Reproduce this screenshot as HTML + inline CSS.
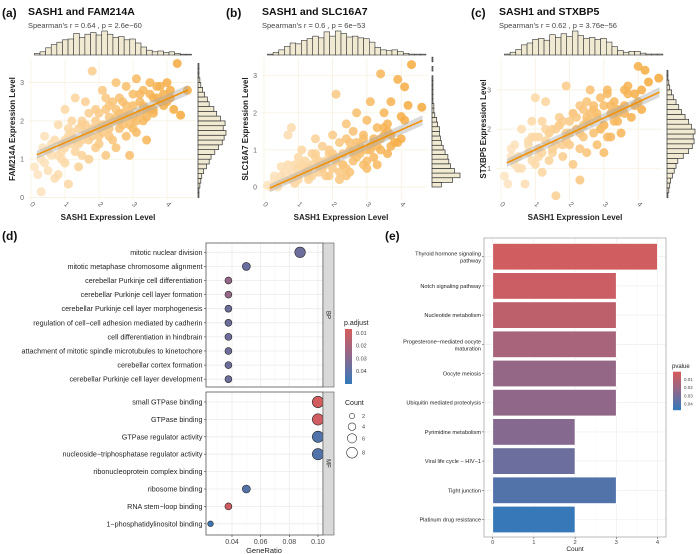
<!DOCTYPE html>
<html><head><meta charset="utf-8"><style>
body{margin:0;background:#fff}
svg{display:block;font-family:"Liberation Sans",Arial,sans-serif}
</style></head><body>
<svg id="fig" width="700" height="554" viewBox="0 0 700 554"></svg>
<script>
// ---------- data ----------
const ptsAx=[0.1,0.2,0.3,0.35,0.5,0.4,0.6,0.7,0.8,0.9,1.0,1.0,1.1,1.2,1.3,1.3,1.4,1.5,1.5,1.6,1.7,1.8,1.8,1.9,2.0,2.0,2.1,2.2,2.2,2.3,2.4,2.4,2.5,2.5,2.6,2.6,2.7,2.8,2.8,2.9,2.9,3.0,3.0,3.1,3.1,3.2,3.3,3.3,3.4,3.4,3.5,3.5,3.6,3.7,3.8,3.9,4.0,4.1,4.2,4.3,4.4,4.6,0.5,0.7,0.9,1.1,1.2,1.4,1.6,1.7,1.9,2.1,2.3,2.3,2.5,2.7,2.8,3.0,3.2,3.6,2.0,1.5,0.8,1.0,2.6,3.8,2.2,
 0.3,0.6,0.9,1.1,1.3,1.5,1.7,1.9,2.1,2.3,2.5,2.7,2.9,3.1,3.3,3.5,3.7,3.9,4.1,0.4,0.8,1.2,1.6,2.0,2.4,2.8,3.2,3.6,4.0,1.0,1.4,1.8,2.2,2.6,3.0,3.4];
const ptsAy=[0.8,0.6,0.15,1.3,0.7,1.6,1.1,0.5,1.9,1.4,0.9,2.3,0.35,1.7,1.2,2.6,0.8,1.5,2.0,2.5,1.0,1.8,3.3,1.3,2.2,1.6,2.8,1.1,1.9,2.4,1.5,2.0,3.0,1.3,2.6,1.8,2.2,1.6,2.9,1.9,1.1,2.4,2.1,3.1,1.7,2.5,2.0,2.8,2.3,1.5,2.7,3.0,2.2,2.6,2.9,2.4,3.0,2.6,2.3,3.5,2.15,2.8,1.2,1.5,1.0,1.6,2.0,1.4,1.7,2.2,2.0,1.7,1.6,2.1,2.3,1.9,2.4,1.8,2.2,2.6,1.4,1.1,0.6,1.3,2.0,2.5,2.6,
 1.0,1.4,1.2,1.8,1.5,1.9,1.5,2.3,1.9,1.8,2.1,2.5,2.2,2.0,2.4,2.3,2.9,2.7,2.8,0.9,1.1,1.4,1.9,1.8,2.5,2.1,2.7,2.3,2.5,1.5,1.8,1.6,2.3,2.2,2.7,2.1];
const ptsBx=[0.1,0.2,0.3,0.4,0.5,0.6,0.7,0.8,0.8,0.9,1.0,1.0,1.1,1.2,1.3,1.4,1.4,1.5,1.6,1.6,1.7,1.8,1.9,2.0,2.0,2.1,2.1,2.2,2.2,2.3,2.4,2.5,2.5,2.6,2.6,2.7,2.7,2.8,2.9,3.0,3.0,3.1,3.1,3.2,3.3,3.4,3.4,3.5,3.6,3.6,3.7,3.8,3.9,4.0,4.1,4.2,4.3,4.6,0.5,0.9,1.2,1.5,1.8,2.3,2.4,2.8,3.2,3.3,1.0,1.7,2.0,2.6,2.9,3.5,3.7,0.7,1.3,1.9,2.4,3.0,
 0.3,0.6,0.9,1.1,1.3,1.5,1.7,1.9,2.1,2.3,2.5,2.7,2.9,3.1,3.3,3.5,3.7,3.9,4.1,0.4,0.8,1.2,1.6,2.0,2.4,2.8,3.2,3.6,4.0,1.0,1.4,1.8,2.2,2.6,3.0,3.4];
const ptsBy=[0.05,0.0,0.3,0.1,0.55,0.2,1.4,0.4,1.6,0.1,0.8,0.3,1.0,0.5,0.2,0.9,0.6,1.3,0.4,0.7,1.1,0.3,0.9,1.4,0.5,2.5,0.8,0.2,1.2,0.6,1.7,0.4,1.0,1.5,0.7,1.2,2.0,0.9,1.4,0.5,1.8,1.1,2.3,0.8,1.6,3.05,1.3,2.0,0.9,1.7,2.3,1.2,2.9,1.9,2.7,2.2,3.3,2.15,0.3,0.6,0.7,0.9,0.7,0.9,1.3,1.1,1.3,0.6,0.5,0.5,0.9,0.9,0.6,1.4,1.1,0.6,0.5,0.3,0.3,1.0,
 0.2,0.4,0.1,0.6,0.3,0.8,0.5,1.0,0.7,0.6,1.2,0.8,1.3,1.0,1.1,1.6,1.4,1.2,1.8,0.0,0.2,0.4,0.6,0.8,0.5,1.0,1.2,1.5,1.3,0.2,0.3,0.6,0.4,1.0,0.7,1.0];
const ptsCx=[0.1,0.2,0.3,0.4,0.5,0.6,0.7,0.8,0.9,1.0,1.0,1.1,1.2,1.3,1.3,1.4,1.5,1.6,1.6,1.7,1.8,1.9,1.9,2.0,2.1,2.1,2.2,2.3,2.3,2.4,2.5,2.5,2.6,2.7,2.7,2.8,2.9,3.0,3.0,3.1,3.2,3.2,3.3,3.4,3.5,3.6,3.7,3.8,3.9,4.0,4.1,4.2,4.3,4.6,0.5,0.8,1.1,1.4,1.7,2.0,2.2,2.4,2.6,2.8,3.0,3.3,3.6,1.2,1.8,2.5,2.9,3.4,0.9,1.5,2.3,3.1,
 0.3,0.6,0.9,1.1,1.3,1.5,1.7,1.9,2.1,2.3,2.5,2.7,2.9,3.1,3.3,3.5,3.7,3.9,4.1,0.4,0.8,1.2,1.6,2.0,2.4,2.8,3.2,3.6,4.0,1.0,1.4,1.8,2.2,2.6,3.0,3.4];
const ptsCy=[0.8,0.6,1.3,1.6,1.0,2.0,0.6,1.4,2.2,1.1,2.8,1.5,0.9,1.7,2.7,1.2,2.0,0.3,1.6,2.3,1.3,1.9,3.1,1.6,2.4,1.1,2.0,0.7,2.6,1.8,2.2,1.4,3.0,1.9,2.5,1.6,2.8,2.1,1.4,3.0,2.4,1.8,2.7,2.2,1.9,2.6,3.1,2.3,2.9,3.6,2.5,3.5,3.2,3.3,1.3,1.7,1.8,1.9,2.1,2.2,2.3,2.1,2.2,2.4,2.6,2.2,2.4,2.2,1.6,2.7,2.0,2.5,1.2,1.4,1.5,1.8,
 1.5,1.0,1.8,1.3,2.0,1.5,2.1,1.7,2.4,1.9,2.3,2.6,2.0,2.9,2.4,2.5,2.9,2.6,3.0,1.1,1.6,1.4,2.0,1.9,2.5,2.3,2.6,3.0,2.7,1.8,1.9,2.2,2.0,2.4,2.1,2.4];
const fitInt=[1.05,-0.1,1.07];
const fitSlope=[0.38,0.41,0.405];
const histTopA=[2,4,9,13,16,19,20,27,22,26,28,25,30,26,22,23,19,20,15,10,6,4,5,3,4,2,1,1];
const histTopB=[1,3,6,10,14,13,17,19,22,20,27,22,28,25,21,22,20,19,15,9,6,5,6,4,2,1,1,1];
const histTopC=[1,3,6,11,13,17,18,16,22,19,23,20,26,21,18,19,17,18,14,9,5,3,4,4,2,1,1,1];
const histRightA=[1,1,2,3,4,6,9,12,14,18,22,26,28,30,27,29,24,20,17,12,10,7,5,3,2,1,1,1];
const histRightB=[10,22,30,24,20,18,17,14,12,10,9,8,8,6,5,3,2,2,1,1,1,1,1,1,0,1,0,1];
const histRightC=[0,0,1,2,3,4,6,8,10,12,18,24,28,30,29,31,27,24,20,16,13,10,7,5,3,2,1,1];

const dTerms=["mitotic nuclear division","mitotic metaphase chromosome alignment","cerebellar Purkinje cell differentiation","cerebellar Purkinje cell layer formation","cerebellar Purkinje cell layer morphogenesis","regulation of cell−cell adhesion mediated by cadherin","cell differentiation in hindbrain","attachment of mitotic spindle microtubules to kinetochore","cerebellar cortex formation","cerebellar Purkinje cell layer development"];
const dRatio=[0.0875,0.05,0.0375,0.0375,0.0375,0.0375,0.0375,0.0375,0.0375,0.0375];
const dCount=[7,4,3,3,3,3,3,3,3,3];
const dPadj=[0.036,0.037,0.026,0.026,0.036,0.036,0.036,0.036,0.036,0.036];
const mfTerms=["small GTPase binding","GTPase binding","GTPase regulator activity","nucleoside−triphosphatase regulator activity","ribonucleoprotein complex binding","ribosome binding","RNA stem−loop binding","1−phosphatidylinositol binding"];
const mfRatio=[0.1,0.1,0.1,0.1,null,0.05,0.0375,0.025];
const mfCount=[8,8,8,8,null,4,3,2];
const mfPadj=[0.008,0.009,0.043,0.043,null,0.042,0.009,0.047];
const xTicksD=[0.04,0.06,0.08,0.10];
const padjTicks=[0.01,0.02,0.03,0.04];
const countTicks=[2,4,6,8];

const eTerms=[["Thyroid hormone signaling","pathway"],["Notch signaling pathway"],["Nucleotide metabolism"],["Progesterone−mediated oocyte","maturation"],["Oocyte meiosis"],["Ubiquitin mediated proteolysis"],["Pyrimidine metabolism"],["Viral life cycle − HIV−1"],["Tight junction"],["Platinum drug resistance"]];
const eCount=[4,3,3,3,3,3,2,2,3,2];
const ePval=[0.003,0.005,0.009,0.016,0.022,0.023,0.026,0.033,0.040,0.047];
const eTicks=[0,1,2,3,4];
const pvTicks=[0.01,0.02,0.03,0.04];

// ---------- helpers ----------
const NS="http://www.w3.org/2000/svg";
const svg=document.getElementById('fig');
function mk(tag,at,parent,txt){const e=document.createElementNS(NS,tag);for(const k in at)e.setAttribute(k,at[k]);if(txt!==undefined)e.textContent=txt;(parent||svg).appendChild(e);return e;}
function lerp(a,b,t){return a+(b-a)*t}
function pcol(v,lo,hi){let t=Math.max(0,Math.min(1,(v-lo)/(hi-lo)));const r=[214,92,92],m=[140,104,140],b=[52,120,185];let c;if(t<0.5){c=r.map((x,i)=>lerp(x,m[i],t*2))}else{c=m.map((x,i)=>lerp(x,b[i],(t-0.5)*2))}return `rgb(${c.map(Math.round).join(',')})`}
function ocol(t){t=Math.max(0,Math.min(1,t));const a=[253,230,196],b=[245,168,58];return `rgb(${a.map((x,i)=>Math.round(lerp(x,b[i],t))).join(',')})`}

// ---------- scatter panels ----------
const panels=[
 {lab:"(a)",labX:2,title:"SASH1 and FAM214A",tX:28,sub:"Spearman's r = 0.64 , p = 2.6e−60",L:29,R:195,x0:31,kx:34,y0:197.5,ky:38.3,yt:[0,1,2,3],ytitle:"FAM214A Expression Level",ytX:15,rhB:198,px:ptsAx,py:ptsAy,ht:histTopA,hr:histRightA,key:"a"},
 {lab:"(b)",labX:226,title:"SASH1 and SLC16A7",tX:262,sub:"Spearman's r = 0.6 , p = 6e−53",L:262,R:428,x0:264,kx:34.3,y0:187,ky:37.1,yt:[0,1,2,3],ytitle:"SLC16A7 Expression Level",ytX:248,rhB:432,px:ptsBx,py:ptsBy,ht:histTopB,hr:histRightB,key:"b"},
 {lab:"(c)",labX:471,title:"SASH1 and STXBP5",tX:499,sub:"Spearman's r = 0.62 , p = 3.76e−56",L:496,R:662,x0:501,kx:34.3,y0:207.5,ky:39.2,yt:[1,2,3],ytitle:"STXBP5 Expression Level",ytX:486,rhB:667,px:ptsCx,py:ptsCy,ht:histTopC,hr:histRightC,key:"c"}
];
panels.forEach((p,pi)=>{
 const g=mk('g',{});
 
 
 const sx=v=>p.x0+v*p.kx, sy=v=>p.y0-v*p.ky;
 mk('text',{x:p.labX,y:17,'font-size':12,'font-weight':'bold',fill:'#111',},g,p.lab);
 mk('text',{x:p.tX,y:15,'font-size':10.5,'font-weight':'bold',fill:'#111',},g,p.title);
 mk('text',{x:p.tX,y:28,'font-size':7.5,fill:'#444',},g,p.sub);
 const T=58,B=200;
 [0,1,2,3,4].forEach(v=>{mk('line',{x1:sx(v),x2:sx(v),y1:T,y2:B,stroke:'#f6efda','stroke-width':0.7},g)});
 p.yt.forEach(v=>{mk('line',{x1:p.L,x2:p.R,y1:sy(v),y2:sy(v),stroke:'#f6efda','stroke-width':0.7},g);
  mk('text',{x:p.L-5,y:sy(v)+2.5,'font-size':7,fill:'#666','text-anchor':'end'},g,v)});
 [0,1,2,3,4].forEach(v=>{mk('text',{x:sx(v),y:B+6,'font-size':7,fill:'#666','text-anchor':'middle',transform:`rotate(45 ${sx(v)} ${B+6})`},g,v)});
 mk('text',{x:(p.L+p.R)/2-4,y:220,'font-size':8,'font-weight':'bold',fill:'#222','text-anchor':'middle',},g,"SASH1 Expression Level");
 mk('text',{x:p.ytX,y:(T+B)/2,'font-size':8,'font-weight':'bold',fill:'#222','text-anchor':'middle',transform:`rotate(-90 ${p.ytX} ${(T+B)/2})`,},g,p.ytitle);
 p.px.forEach((xv,i)=>{const c=mk('circle',{cx:sx(xv),cy:sy(p.py[i]),r:4.5,fill:ocol(xv/4.4),'fill-opacity':0.85},g);
  
  });
 const a=fitInt[pi],b=fitSlope[pi],xa=0.17,xb=4.62;
 mk('polygon',{points:`${sx(xa)},${sy(a+b*xa)-4} ${sx(xb)},${sy(a+b*xb)-5} ${sx(xb)},${sy(a+b*xb)+5} ${sx(xa)},${sy(a+b*xa)+4}`,fill:'#aaa','fill-opacity':0.45},g);
 const fl=mk('line',{x1:sx(xa),y1:sy(a+b*xa),x2:sx(xb),y2:sy(a+b*xb),stroke:'#f0920a','stroke-width':1.6},g);
 
 
 const bw=0.165,hb=55,hmax=Math.max(...p.ht);
 p.ht.forEach((v,i)=>{const h=v/hmax*24;const r=mk('rect',{x:sx(0.1+i*bw),y:hb-h,width:bw*p.kx,height:h,fill:'#f1ead3',stroke:'#333','stroke-width':0.6},g);
  
  });
 const rbw=0.125,rmax=Math.max(...p.hr);
 p.hr.forEach((v,i)=>{const w=v/rmax*28;const r=mk('rect',{x:p.rhB,y:sy((i+1)*rbw),width:w,height:rbw*p.ky,fill:'#f1ead3',stroke:'#333','stroke-width':0.7},g);
  
  });
});

// ---------- panel d ----------
(function(){
 const g=mk('g',{});
 
 
 mk('text',{x:2,y:240,'font-size':12,'font-weight':'bold',fill:'#111',},g,"(d)");
 const L=206,R=323,sx=v=>232+(v-0.04)*1433;
 const lo=0.0069,hi=0.050;
 const facets=[{T:243,B:387,y0:252.3,dy:14.1,terms:dTerms,ratio:dRatio,count:dCount,padj:dPadj,lab:"BP"},
               {T:392,B:535,y0:402,dy:17.4,terms:mfTerms,ratio:mfRatio,count:mfCount,padj:mfPadj,lab:"MF"}];
 facets.forEach(f=>{
  mk('rect',{x:L,y:f.T,width:R-L,height:f.B-f.T,fill:'#fff'},g);
  xTicksD.forEach(v=>mk('line',{x1:sx(v),x2:sx(v),y1:f.T,y2:f.B,stroke:'#ebebeb','stroke-width':0.8},g));
  [0.03,0.05,0.07,0.09].forEach(v=>mk('line',{x1:sx(v),x2:sx(v),y1:f.T,y2:f.B,stroke:'#f4f4f4','stroke-width':0.5},g));
  f.terms.forEach((t,i)=>{const y=f.y0+i*f.dy;
   mk('line',{x1:L,x2:R,y1:y,y2:y,stroke:'#ebebeb','stroke-width':0.8},g);
   mk('line',{x1:L-2,x2:L,y1:y,y2:y,stroke:'#333','stroke-width':0.6},g);
   mk('text',{x:L-3.5,y:y+2.5,'font-size':7.2,fill:'#222','text-anchor':'end',},g,t);
   if(f.ratio[i]!=null){const c=mk('circle',{cx:sx(f.ratio[i]),cy:y,r:2*Math.sqrt(f.count[i]),fill:pcol(f.padj[i],lo,hi),stroke:'#222','stroke-width':0.6},g);
    
    }
  });
  mk('rect',{x:L,y:f.T,width:R-L,height:f.B-f.T,fill:'none',stroke:'#555','stroke-width':0.8},g);
  mk('rect',{x:R,y:f.T,width:11,height:f.B-f.T,fill:'#d9d9d9',stroke:'#555','stroke-width':0.6,},g);
  const cy=(f.T+f.B)/2;
  mk('text',{x:R+5.5,y:cy,'font-size':6,fill:'#222','text-anchor':'middle',transform:`rotate(90 ${R+5.5} ${cy})`,dy:2},g,f.lab);
 });
 xTicksD.forEach(v=>{mk('line',{x1:sx(v),x2:sx(v),y1:535,y2:537,stroke:'#333','stroke-width':0.6},g);
  mk('text',{x:sx(v),y:544,'font-size':7,fill:'#444','text-anchor':'middle'},g,v.toFixed(2))});
 mk('text',{x:264,y:553,'font-size':7.5,fill:'#222','text-anchor':'middle',},g,"GeneRatio");
 mk('text',{x:344,y:325,'font-size':7,fill:'#222',},g,"p.adjust");
 const gr=mk('linearGradient',{id:'gd',x1:0,y1:0,x2:0,y2:1},mk('defs',{},g));
 [0,0.25,0.5,0.75,1].forEach(t=>mk('stop',{offset:t,'stop-color':pcol(lo+(hi-lo)*t,lo,hi)},gr));
 mk('rect',{x:345,y:329,width:7,height:55,fill:'url(#gd)',},g);
 padjTicks.forEach(v=>{const y=329+(v-lo)/(hi-lo)*55;mk('text',{x:356,y:y+2,'font-size':5.5,fill:'#444'},g,v.toFixed(2))});
 mk('text',{x:345,y:405,'font-size':7,fill:'#222',},g,"Count");
 const cys=[416,426.7,438.3,452.7];
 countTicks.forEach((v,i)=>{mk('circle',{cx:352,cy:cys[i],r:2*Math.sqrt(v)*0.95,fill:'#fff',stroke:'#333','stroke-width':0.6},g);
  mk('text',{x:362,y:cys[i]+2,'font-size':5.5,fill:'#444'},g,v)});
})();

// ---------- panel e ----------
(function(){
 const g=mk('g',{});
 
 
 mk('text',{x:385,y:240,'font-size':12,'font-weight':'bold',fill:'#111',},g,"(e)");
 const L=484,R=666,T=238,B=537,sx=v=>492.7+v*41.2;
 const lo=0.0011,hi=0.0477;
 eTicks.forEach(v=>mk('line',{x1:sx(v),x2:sx(v),y1:T,y2:B,stroke:'#ebebeb','stroke-width':0.6},g));
 [0.5,1.5,2.5,3.5].forEach(v=>mk('line',{x1:sx(v),x2:sx(v),y1:T,y2:B,stroke:'#f5f5f5','stroke-width':0.4},g));
 eTerms.forEach((t,i)=>{const y=256.7+i*29.2;
  mk('line',{x1:L,x2:R,y1:y,y2:y,stroke:'#ebebeb','stroke-width':0.6},g);
  const r=mk('rect',{x:sx(0),y:y-13.3,width:sx(eCount[i])-sx(0),height:26.6,fill:pcol(ePval[i],lo,hi),stroke:'#fff','stroke-width':0.8},g);
  
  
  mk('line',{x1:L-2,x2:L,y1:y,y2:y,stroke:'#333','stroke-width':0.5},g);
  if(t.length==1){mk('text',{x:L-3,y:y+2,'font-size':5.6,fill:'#222','text-anchor':'end'},g,t[0]);}
  else{mk('text',{x:L-3,y:y-1,'font-size':5.6,fill:'#222','text-anchor':'end'},g,t[0]);mk('text',{x:L-3,y:y+6,'font-size':5.6,fill:'#222','text-anchor':'end'},g,t[1]);}
 });
 mk('rect',{x:L,y:T,width:R-L,height:B-T,fill:'none',stroke:'#aaa','stroke-width':0.8,},g);
 eTicks.forEach(v=>{mk('line',{x1:sx(v),x2:sx(v),y1:B,y2:B+2,stroke:'#333','stroke-width':0.5},g);
  mk('text',{x:sx(v),y:544,'font-size':5.8,fill:'#444','text-anchor':'middle'},g,v)});
 mk('text',{x:575,y:551,'font-size':6.5,fill:'#222','text-anchor':'middle',},g,"Count");
 mk('text',{x:672,y:368,'font-size':6,fill:'#222',},g,"pvalue");
 const gr=mk('linearGradient',{id:'ge',x1:0,y1:0,x2:0,y2:1},mk('defs',{},g));
 [0,0.25,0.5,0.75,1].forEach(t=>mk('stop',{offset:t,'stop-color':pcol(lo+(hi-lo)*t,lo,hi)},gr));
 mk('rect',{x:673,y:371.7,width:8,height:38.5,fill:'url(#ge)',},g);
 pvTicks.forEach(v=>{const y=371.7+(v-lo)/(hi-lo)*38.5;mk('text',{x:684,y:y+1.8,'font-size':4.5,fill:'#444'},g,v.toFixed(2))});
})();
</script>
</body></html>
